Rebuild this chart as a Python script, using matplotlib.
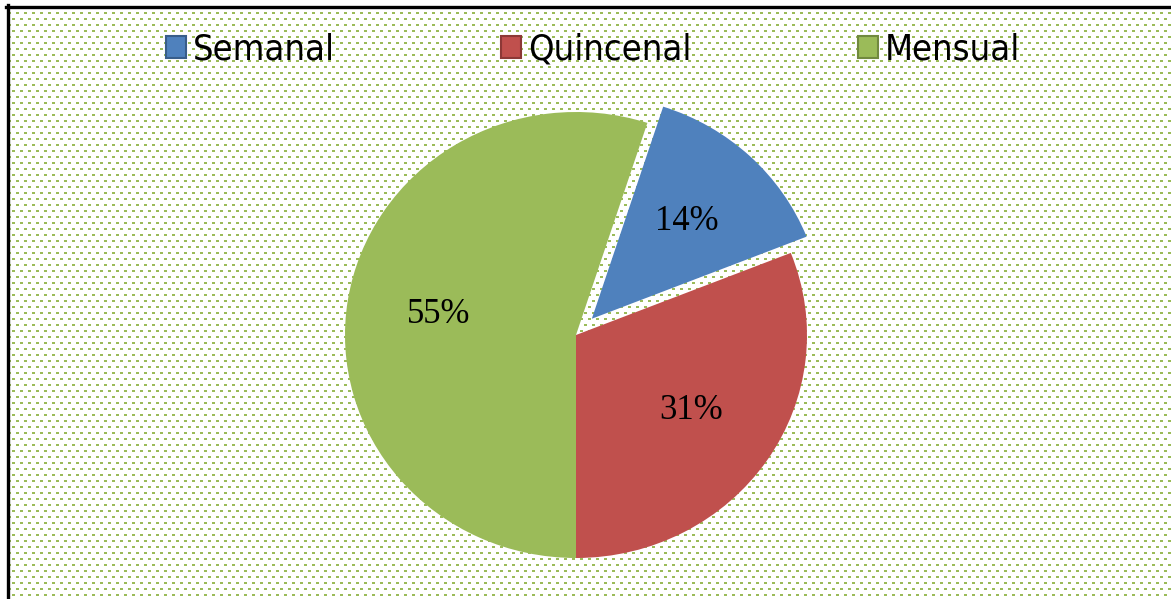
import numpy as np
import matplotlib.pyplot as plt
from matplotlib.patches import Patch
from matplotlib.lines import Line2D

plt.rcParams['font.serif'] = ['Liberation Serif', 'Times New Roman', 'DejaVu Serif']

labels = ['Semanal', 'Quincenal', 'Mensual']
values = [14, 31, 55]
colors = ['#4F81BD', '#C0504D', '#9BBB59']
edge_colors = ['#385D8A', '#8C3836', '#71893F']
explode = [0.1, 0, 0]

W, H = 1171, 599
fig = plt.figure(figsize=(W / 100, H / 100), dpi=100)

# dotted green background (like the office chart fill)
bg = np.ones((H, W, 3))
yy, xx = np.mgrid[0:H, 0:W]
row = yy // 6
off = 4 * (row % 2)
mask = ((yy % 6) < 2) & (((xx + off) % 8) < 3)
mask &= (xx > 9) & (yy > 8)
bg[mask] = [0x9B / 255, 0xBB / 255, 0x59 / 255]
bax = fig.add_axes([0, 0, 1, 1])
bax.imshow(bg, aspect='auto', interpolation='nearest')
bax.set_axis_off()

# black border on left and top
fig.add_artist(Line2D([7.5 / W, 7.5 / W], [0, 1 - 5 / H], color='black', lw=2.4, transform=fig.transFigure))
fig.add_artist(Line2D([6 / W, 1], [1 - 6.5 / H, 1 - 6.5 / H], color='black', lw=2.4, transform=fig.transFigure))

# pie (slightly squashed vertically, like the tilted 3D original)
cx, cy, half = 576, 335, 255
rx, ry = 231, 223
ax = fig.add_axes([(cx - half) / W, 1 - (cy + half) / H, 2 * half / W, 2 * half / H])
ax.set_facecolor('none')
wedges, texts, autotexts = ax.pie(values, colors=colors, explode=explode, startangle=72,
                                  counterclock=False, autopct='%1.0f%%', pctdistance=0.6,
                                  radius=1.0, wedgeprops=dict(linewidth=0),
                                  textprops=dict(fontsize=25, family='serif', color='black'))
ax.set_aspect('auto')
ax.set_xlim(-half / rx, half / rx)
ax.set_ylim(-half / ry, half / ry)
ax.set_axis_off()

handles = [Patch(facecolor=c, edgecolor=e, linewidth=1.5) for c, e in zip(colors, edge_colors)]
fig.legend(handles, labels, loc='center', bbox_to_anchor=(593 / W, 1 - 50 / H), ncol=3,
           frameon=False, prop=dict(family='DejaVu Sans', size=26, stretch='condensed'),
           handlelength=0.55, handleheight=0.55, handletextpad=0.2, columnspacing=4.6)

fig.savefig('out.png', dpi=100)
